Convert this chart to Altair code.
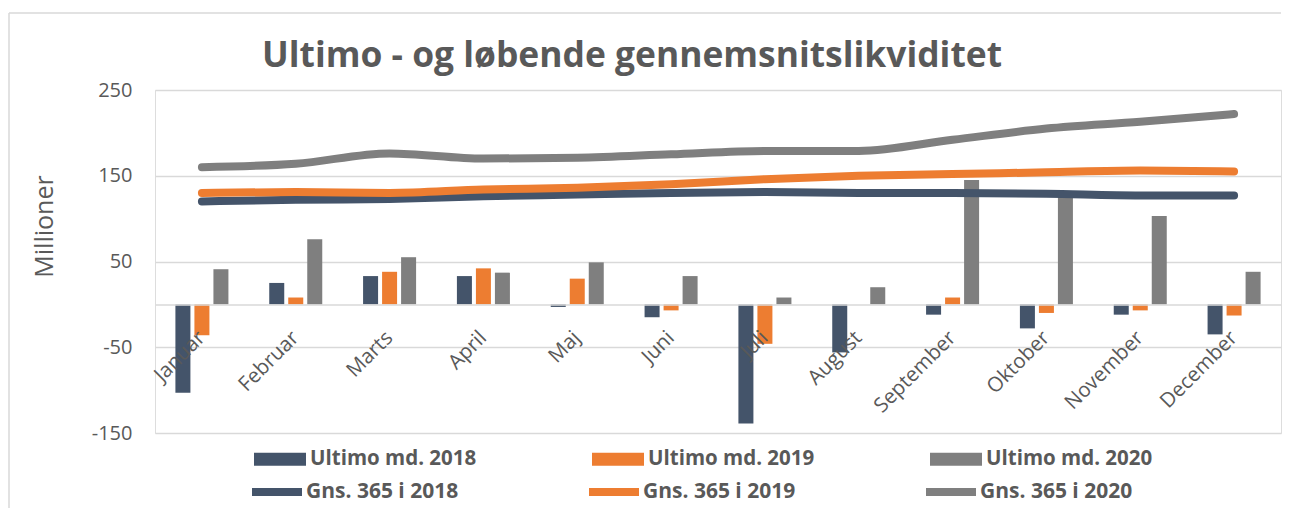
import altair as alt
import pandas as pd

months = ["Januar", "Februar", "Marts", "April", "Maj", "Juni", "Juli",
          "August", "September", "Oktober", "November", "December"]

bar_names = ["Ultimo md. 2018", "Ultimo md. 2019", "Ultimo md. 2020"]
line_names = ["Gns. 365 i 2018", "Gns. 365 i 2019", "Gns. 365 i 2020"]
colors = ["#44546A", "#ED7D31", "#7F7F7F"]

ultimo_2018 = [-103, 25, 33, 33, -3, -15, -139, -56, -12, -28, -12, -35]
ultimo_2019 = [-36, 8, 38, 42, 30, -7, -46, 0, 8, -10, -7, -13]
ultimo_2020 = [41, 76, 55, 37, 49, 33, 8, 20, 145, 126, 103, 38]

gns_2018 = [120, 122, 123, 126, 128, 130, 131, 130, 130, 129, 127, 127]
gns_2019 = [130, 131, 130, 134, 136, 140, 146, 150, 152, 154, 156, 155]
gns_2020 = [160, 164, 176, 170, 171, 175, 179, 179, 192, 205, 213, 222]

y_ticks = [-150, -50, 50, 150, 250]

bars = pd.DataFrame(
    [(m, s, v) for s, vals in zip(bar_names, [ultimo_2018, ultimo_2019, ultimo_2020])
     for m, v in zip(months, vals)],
    columns=["month", "series", "value"],
)
lines = pd.DataFrame(
    [(m, s, v) for s, vals in zip(line_names, [gns_2018, gns_2019, gns_2020])
     for m, v in zip(months, vals)],
    columns=["month", "series", "value"],
)

FONT = "Open Sans"
TXT = "#595959"
GRID = "#d9d9d9"

x_enc = alt.X(
    "month:N", sort=months,
    scale=alt.Scale(paddingInner=0.435, paddingOuter=0.2175),
    axis=alt.Axis(
        title=None, orient="bottom", offset=-128.6, domain=True,
        domainColor=GRID, domainWidth=1.5, ticks=False, grid=False,
        labelAngle=-45, labelAlign="right", labelBaseline="middle",
        labelFont=FONT, labelFontSize=20.5, labelColor=TXT, labelPadding=30,
        labelOverlap=False, zindex=1,
    ),
)
y_enc = alt.Y(
    "value:Q",
    scale=alt.Scale(domain=[-150, 250], nice=False, zero=False),
    axis=alt.Axis(
        values=y_ticks, title="Millioner", domain=False, ticks=False,
        grid=True, gridColor=GRID, gridWidth=1.5,
        labelExpr="toString(datum.value)",
        labelFont=FONT, labelFontSize=20, labelColor=TXT, labelPadding=23,
        titleFont=FONT, titleFontSize=25, titleFontWeight="normal",
        titleColor=TXT, titleX=-111, titleY=136, titleAngle=270,
        titleAlign="center", titleBaseline="middle",
    ),
)

frame_data = pd.DataFrame({"b": [0]})
border_left = alt.Chart(frame_data).mark_rule(color=GRID, strokeWidth=1.5).encode(
    x=alt.value(-146), x2=alt.value(-146), y=alt.value(-77), y2=alt.value(420)
)
border_top = alt.Chart(frame_data).mark_rule(color=GRID, strokeWidth=1.5).encode(
    x=alt.value(-146), x2=alt.value(1126), y=alt.value(-77), y2=alt.value(-77)
)

bar_layer = alt.Chart(bars).mark_bar().encode(
    x=x_enc,
    y=y_enc,
    xOffset=alt.XOffset("series:N", sort=bar_names,
                        scale=alt.Scale(paddingInner=0.2105, paddingOuter=0)),
    color=alt.Color(
        "series:N",
        scale=alt.Scale(domain=bar_names, range=colors),
        legend=alt.Legend(
            title=None, orient="none", legendX=99, legendY=343,
            direction="horizontal", columns=3,
            symbolType="M-1,-0.25H1V0.25H-1Z", symbolSize=2704,
            symbolStrokeWidth=0, symbolOpacity=1,
            labelFont=FONT, labelFontSize=20.5, labelFontWeight="bold",
            labelColor=TXT, labelOffset=4, labelLimit=400,
            columnPadding=115,
        ),
    ),
)

line_layer = alt.Chart(lines).mark_line(
    strokeWidth=8, strokeCap="round", strokeJoin="round", interpolate="monotone"
).encode(
    x=x_enc,
    y=y_enc,
    stroke=alt.Stroke(
        "series:N",
        scale=alt.Scale(domain=line_names, range=colors),
        legend=alt.Legend(
            title=None, orient="none", legendX=93, legendY=373,
            direction="horizontal", columns=3,
            symbolType="stroke", symbolSize=2500, symbolStrokeWidth=8,
            labelFont=FONT, labelFontSize=21, labelFontWeight="bold",
            labelColor=TXT, labelOffset=0, labelLimit=400,
            columnPadding=114,
        ),
    ),
)

chart = alt.layer(border_left, border_top, bar_layer, line_layer).properties(
    width=1126,
    height=343,
    autosize=alt.AutoSizeParams(type="none"),
    padding={"left": 147, "top": 82, "right": 2, "bottom": 75},
    title=alt.Title(
        "Ultimo - og løbende gennemsnitslikviditet",
        anchor="start", frame="group", dx=107, offset=-90,
        baseline="alphabetic",
        font=FONT, fontSize=35.4, fontWeight="bold", color=TXT,
    ),
).configure_view(stroke="transparent").configure(background="white")

chart.save("out.html", embed_options={"renderer": "svg", "actions": False})
